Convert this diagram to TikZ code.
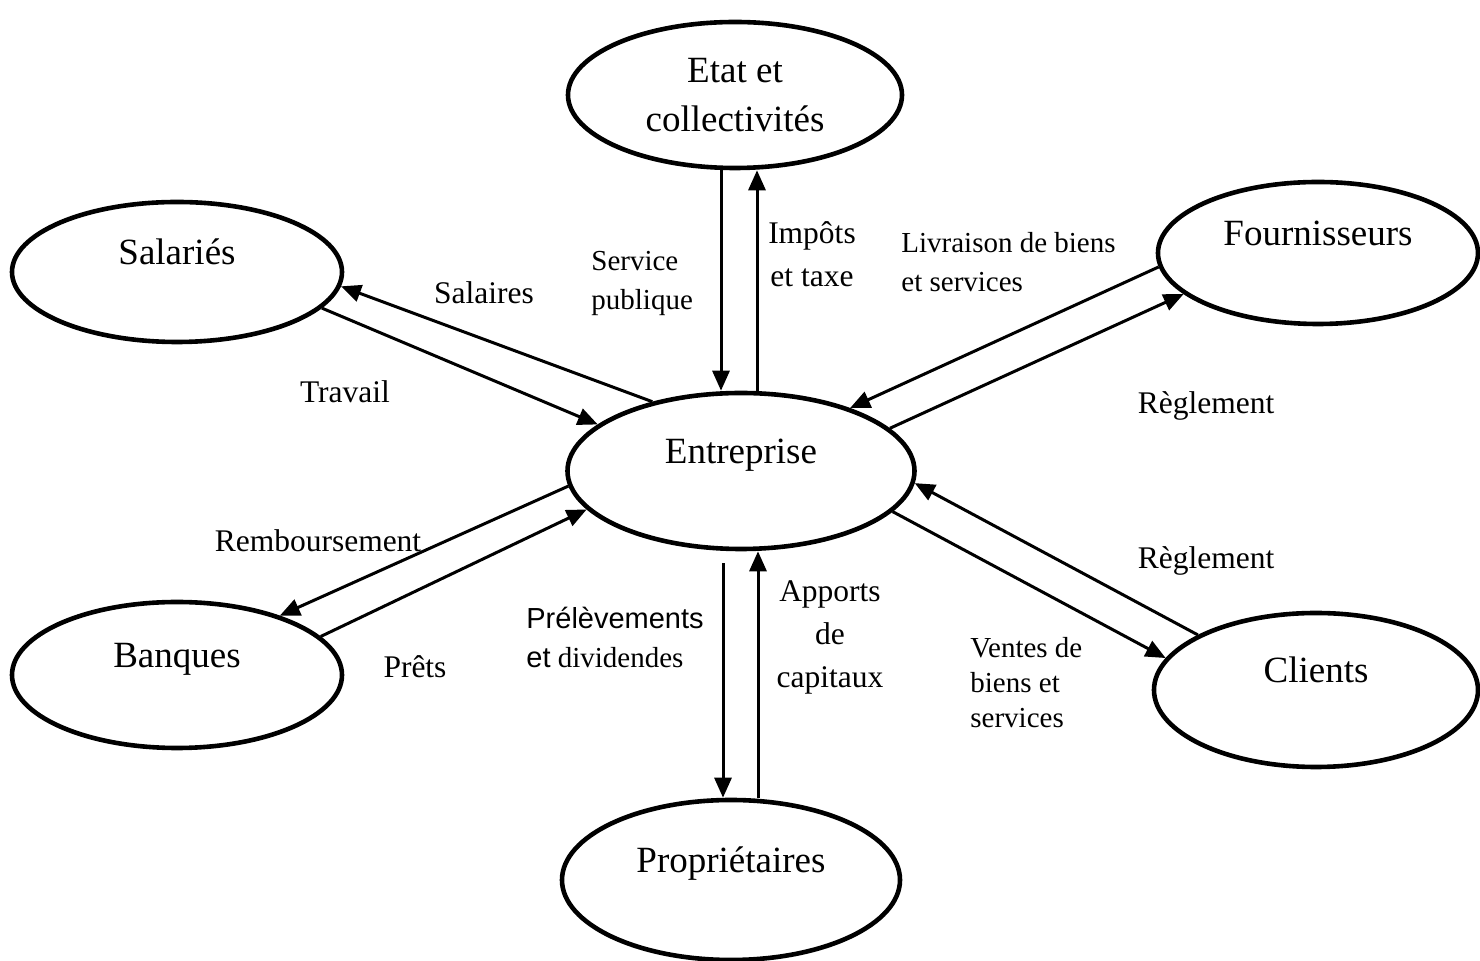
\documentclass[tikz,border=0pt]{standalone}
\usepackage{fontspec}
\setmainfont{Liberation Serif}
\newfontfamily\arialfont{Liberation Sans}
\usetikzlibrary{arrows.meta,shapes.geometric}

\begin{document}
\begin{tikzpicture}[x=0.5pt,y=-0.5pt,
  acteur/.style={ellipse,draw,line width=2.3pt,inner sep=0pt,align=center,font=\fontsize{18.5}{24.5}\selectfont},
  mono/.style={text height=13pt,text depth=20pt},
  lbl/.style={inner sep=0pt,font=\fontsize{15.75}{21.5}\selectfont},
  lsmall/.style={lbl,font=\fontsize{14.5}{19.5}\selectfont},
  ar/.style={-{Triangle[length=10pt,width=8.5pt]},line width=1.5pt}]
 \useasboundingbox (0,0) rectangle (1480,961);
 % les acteurs
 \node[acteur,minimum width=167pt,minimum height=73pt] (etat) at (735,95) {Etat et\\collectivités};
 \node[acteur,mono,minimum width=165pt,minimum height=70pt] (sal) at (177,272) {Salariés};
 \node[acteur,mono,minimum width=160pt,minimum height=71pt] (four) at (1318,253) {Fournisseurs};
 \node[acteur,mono,minimum width=173.5pt,minimum height=78pt] (ent) at (741,471) {Entreprise};
 \node[acteur,mono,minimum width=165pt,minimum height=73pt] (ban) at (177,675) {Banques};
 \node[acteur,mono,minimum width=162pt,minimum height=77pt] (cli) at (1316,690) {Clients};
 \node[acteur,mono,minimum width=169pt,minimum height=80pt] (prop) at (731,880) {Propriétaires};
 % les flux
 \draw[ar] ([xshift=-7pt]etat.south) -- ([xshift=-10pt]ent.north);
 \draw[ar] ([xshift=8pt]ent.north) -- ([xshift=11pt]etat.south);
 \draw[ar] (ent.142) -- (sal.-5);
 \draw[ar] (sal.-14) -- (ent.162);
 \draw[ar] (four.185) -- (ent.30);
 \draw[ar] (ent.16) -- (four.197);
 \draw[ar] (ent.185) -- (ban.30);
 \draw[ar] (ban.15) -- (ent.194);
 \draw[ar] (cli.155) -- (ent.-4.5);
 \draw[ar] (ent.-15) -- (cli.168);
 \draw[ar,shorten <=6pt] ([xshift=-9pt]ent.south) -- ([xshift=-4pt]prop.north);
 \draw[ar] ([xshift=13.5pt]prop.north) -- ([xshift=8.5pt]ent.south);
 % les libellés
 \node[lsmall,align=left,anchor=west] (servpub) at (591,283) {Service\\publique};
 \node[lbl,align=center] (impots) at (812,254) {Impôts\\et taxe};
 \node[lbl] (salaires) at (484,293) {Salaires};
 \node[lbl] (travail) at (345,392) {Travail};
 \node[lsmall,align=left,anchor=west] (livraison) at (901,262) {Livraison de biens\\et services};
 \node[lbl] (regl1) at (1206,406) {Règlement};
 \node[lbl] (rembours) at (318,541) {Remboursement};
 \node[lbl] (prets) at (415,667) {Prêts};
 \node[lsmall,align=left,anchor=west] (prelev) at (526,637) {{\arialfont Prélèvements}\\{\arialfont et} dividendes};
 \node[lbl,align=center] (apports) at (830,637) {Apports\\de\\capitaux};
 \node[lbl] (regl2) at (1206,561) {Règlement};
 \node[lsmall,align=left,anchor=west,font=\fontsize{14.5}{17.5}\selectfont] (ventes) at (970,683) {Ventes de\\biens et\\services};
\end{tikzpicture}
\end{document}
